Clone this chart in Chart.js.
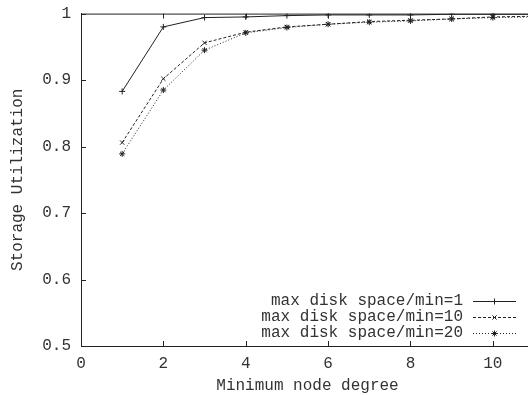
<!DOCTYPE html>
<html lang="en">
<head>
<meta charset="UTF-8">
<title>Storage Utilization</title>
<script src="https://cdn.jsdelivr.net/npm/chart.js"></script>
<style>
  html, body { margin: 0; padding: 0; background: #fff; overflow: hidden; }
  #wrap { width: 540px; height: 401px; margin-top: -6px; }
</style>
</head>
<body>
<div id="wrap"><canvas id="chart"></canvas></div>
<script>
const degrees = [1, 2, 3, 4, 5, 6, 7, 8, 9, 10, 11];
const util1 = [0.883, 0.980, 0.994, 0.995, 0.997, 0.998, 0.998, 0.998, 0.999, 0.999, 0.999];
const util10 = [0.806, 0.902, 0.956, 0.972, 0.980, 0.984, 0.988, 0.990, 0.992, 0.995, 0.996];
const util20 = [0.789, 0.885, 0.945, 0.971, 0.979, 0.984, 0.987, 0.989, 0.992, 0.994, 0.995];
const seriesNames = ['max disk space/min=1', 'max disk space/min=10', 'max disk space/min=20'];
const xTicks = [0, 2, 4, 6, 8, 10];
const yTicks = [0.5, 0.6, 0.7, 0.8, 0.9, 1];

const FONT = '"Liberation Mono", "DejaVu Sans Mono", monospace';
const INK = '#222';
const TEXT = '#333';

function pts(ys) { return degrees.map((d, i) => ({ x: d, y: ys[i] })); }

// gnuplot-ish frame: top border + inward ticks on every side, and the key
const frame = {
  id: 'frame',
  afterDraw(chart) {
    const { ctx, chartArea: a, scales: { x, y } } = chart;
    ctx.save();
    ctx.strokeStyle = INK;
    ctx.lineWidth = 1;
    ctx.beginPath();
    ctx.moveTo(a.left, a.top + 0.5); ctx.lineTo(a.right, a.top + 0.5);
    ctx.moveTo(a.right - 0.5, a.top); ctx.lineTo(a.right - 0.5, a.bottom);
    xTicks.forEach(v => {
      const px = Math.round(x.getPixelForValue(v)) + 0.5;
      ctx.moveTo(px, a.bottom); ctx.lineTo(px, a.bottom - 5);
      ctx.moveTo(px, a.top); ctx.lineTo(px, a.top + 5);
    });
    yTicks.forEach(v => {
      const py = Math.round(y.getPixelForValue(v)) + 0.5;
      ctx.moveTo(a.left, py); ctx.lineTo(a.left + 5, py);
      ctx.moveTo(a.right, py); ctx.lineTo(a.right - 5, py);
    });
    ctx.stroke();

    // key, bottom right inside the plot (canvas is shifted up 6px)
    ctx.font = '16px ' + FONT;
    ctx.fillStyle = TEXT;
    ctx.textAlign = 'right';
    ctx.textBaseline = 'middle';
    const rowY = [307, 323, 339];
    chart.data.datasets.forEach((ds, i) => {
      const yy = rowY[i];
      ctx.fillText(ds.label, 463, yy);
      ctx.save();
      ctx.setLineDash(ds.borderDash || []);
      ctx.lineWidth = 1;
      ctx.beginPath();
      ctx.moveTo(473, yy + 0.5); ctx.lineTo(516, yy + 0.5);
      ctx.stroke();
      ctx.restore();
      Chart.helpers.drawPoint(ctx, { pointStyle: ds.pointStyle, radius: 3, borderWidth: 1 }, 494.5, yy + 0.5);
    });
    ctx.restore();
  }
};

const common = { borderColor: INK, backgroundColor: INK, borderWidth: 1, pointRadius: 3,
  pointBorderWidth: 1, pointBorderColor: INK, fill: false, tension: 0 };

new Chart(document.getElementById('chart'), {
  type: 'line',
  data: {
    datasets: [
      { ...common, label: seriesNames[0], data: pts(util1), pointStyle: 'cross' },
      { ...common, label: seriesNames[1], data: pts(util10), pointStyle: 'crossRot', borderDash: [3, 2] },
      { ...common, label: seriesNames[2], data: pts(util20), pointStyle: 'star', borderDash: [1, 2] }
    ]
  },
  options: {
    responsive: true,
    maintainAspectRatio: false,
    animation: false,
    layout: { padding: { top: 7, right: 6, left: 0, bottom: 0 } },
    plugins: { legend: { display: false }, tooltip: { enabled: false } },
    scales: {
      x: {
        type: 'linear', min: 0, max: 11,
        afterBuildTicks: s => { s.ticks = xTicks.map(v => ({ value: v })); },
        afterFit: s => { s.height = 49; },
        grid: { display: false, drawTicks: false },
        border: { display: true, color: INK, width: 1 },
        ticks: { color: TEXT, font: { family: FONT, size: 16 }, padding: 8, maxRotation: 0 },
        title: { display: true, text: 'Minimum node degree', color: TEXT,
          font: { family: FONT, size: 16 }, padding: { top: 6, bottom: 0 } }
      },
      y: {
        min: 0.5, max: 1,
        afterBuildTicks: s => { s.ticks = yTicks.map(v => ({ value: v })); },
        afterFit: s => { s.width = 81; },
        grid: { display: false, drawTicks: false },
        border: { display: true, color: INK, width: 1 },
        ticks: { color: TEXT, font: { family: FONT, size: 16 }, padding: 10,
          callback: v => String(v) },
        title: { display: true, text: 'Storage Utilization', color: TEXT,
          font: { family: FONT, size: 16 }, padding: { top: 8, bottom: 4 } }
      }
    }
  },
  plugins: [frame]
});
</script>
</body>
</html>
